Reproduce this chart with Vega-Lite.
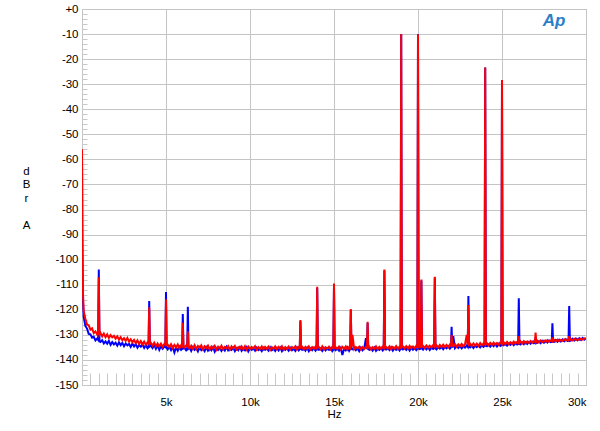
{
  "$schema": "https://vega.github.io/schema/vega-lite/v6.json",
  "autosize": {"type": "none"},
  "padding": {"left": 82, "top": 9, "right": 14, "bottom": 46},
  "width": 504,
  "height": 376,
  "background": "white",
  "config": {
    "view": {"stroke": "#a8a8a8", "strokeWidth": 1},
    "font": "Liberation Sans",
    "axis": {"labelFont": "Liberation Sans", "titleFont": "Liberation Sans", "labelFontSize": 11.5, "titleFontSize": 11.5, "labelColor": "#000", "titleColor": "#000", "titleFontWeight": "normal", "domain": false, "gridColor": "#c4c4c4", "gridWidth": 1, "tickColor": "#c8c8c8", "tickWidth": 1}
  },
  "data": {"values": [
    {"f":0,"R":-56,"L":-56.5},{"f":20,"R":-88,"L":-92},{"f":50,"R":-112,"L":-115},
    {"f":100,"R":-120.5,"L":-122.8},{"f":200,"R":-123.6,"L":-126.4},{"f":300,"R":-125.9,"L":-127.5},{"f":400,"R":-126.2,"L":-129.6},{"f":500,"R":-127.9,"L":-129.8},{"f":600,"R":-127.4,"L":-131.1},{"f":700,"R":-129.3,"L":-130.7},{"f":800,"R":-128.6,"L":-132.2},{"f":900,"R":-129.8,"L":-131.5},
    {"f":1000,"R":-107,"L":-103.9},{"f":1100,"R":-129.2,"L":-132.8},{"f":1200,"R":-130.6,"L":-132.1},{"f":1300,"R":-129.5,"L":-133.4},{"f":1400,"R":-130.9,"L":-132.6},{"f":1500,"R":-129.8,"L":-133.5},{"f":1600,"R":-131.2,"L":-132.4},{"f":1700,"R":-130.1,"L":-134.0},{"f":1800,"R":-131.0,"L":-132.9},{"f":1900,"R":-130.4,"L":-133.8},
    {"f":2000,"R":-131.5,"L":-133.1},{"f":2100,"R":-130.6,"L":-134.3},{"f":2200,"R":-131.9,"L":-133.0},{"f":2300,"R":-130.9,"L":-134.1},{"f":2400,"R":-132.1,"L":-133.2},{"f":2500,"R":-131.3,"L":-134.5},{"f":2600,"R":-132.4,"L":-133.4},{"f":2700,"R":-131.2,"L":-134.2},{"f":2800,"R":-132.7,"L":-133.6},{"f":2900,"R":-131.8,"L":-134.8},
    {"f":3000,"R":-132.9,"L":-133.5},{"f":3100,"R":-132.0,"L":-134.6},{"f":3200,"R":-133.3,"L":-133.7},{"f":3300,"R":-132.2,"L":-135.1},{"f":3400,"R":-133.6,"L":-134.0},{"f":3500,"R":-132.5,"L":-134.7},{"f":3600,"R":-133.8,"L":-133.9},{"f":3700,"R":-132.7,"L":-135.2},{"f":3800,"R":-134.0,"L":-134.1},{"f":3900,"R":-133.0,"L":-135.4},
    {"f":4000,"R":-119,"L":-116.5},{"f":4100,"R":-133.2,"L":-134.3},{"f":4200,"R":-134.3,"L":-135.3},{"f":4300,"R":-133.1,"L":-134.0},{"f":4400,"R":-134.5,"L":-135.6},{"f":4500,"R":-133.4,"L":-134.2},{"f":4600,"R":-134.6,"L":-136.0},{"f":4700,"R":-133.5,"L":-134.5},{"f":4800,"R":-134.8,"L":-135.5},{"f":4900,"R":-133.6,"L":-134.6},
    {"f":5000,"R":-115.8,"L":-112.9},{"f":5100,"R":-133.9,"L":-135.8},{"f":5200,"R":-134.9,"L":-134.7},{"f":5300,"R":-133.7,"L":-136.1},{"f":5400,"R":-135.2,"L":-134.9},{"f":5500,"R":-134.0,"L":-137.0},{"f":5600,"R":-135.0,"L":-135.0},{"f":5700,"R":-133.8,"L":-136.3},{"f":5800,"R":-135.3,"L":-134.8},{"f":5900,"R":-134.1,"L":-136.0},
    {"f":6000,"R":-125.2,"L":-121.7},{"f":6100,"R":-135.0,"L":-135.2},{"f":6200,"R":-134.2,"L":-136.2},{"f":6300,"R":-128.7,"L":-118.8},{"f":6400,"R":-135.4,"L":-135.1},{"f":6500,"R":-134.3,"L":-136.4},{"f":6600,"R":-135.5,"L":-134.9},{"f":6700,"R":-134.1,"L":-136.0},{"f":6800,"R":-135.6,"L":-135.3},{"f":6900,"R":-134.4,"L":-136.6},
    {"f":7000,"R":-135.2,"L":-135.0},{"f":7100,"R":-134.2,"L":-136.1},{"f":7200,"R":-135.7,"L":-135.4},{"f":7300,"R":-134.5,"L":-136.5},{"f":7400,"R":-135.3,"L":-135.0},{"f":7500,"R":-134.3,"L":-136.3},{"f":7600,"R":-135.8,"L":-135.5},{"f":7700,"R":-134.6,"L":-136.2},{"f":7800,"R":-135.4,"L":-134.9},{"f":7900,"R":-134.4,"L":-136.7},
    {"f":8000,"R":-135.9,"L":-135.3},{"f":8100,"R":-134.7,"L":-136.0},{"f":8200,"R":-135.5,"L":-135.2},{"f":8300,"R":-134.3,"L":-136.4},{"f":8400,"R":-135.7,"L":-135.4},{"f":8500,"R":-134.8,"L":-136.3},{"f":8600,"R":-135.3,"L":-134.8},{"f":8700,"R":-134.5,"L":-136.2},{"f":8800,"R":-135.9,"L":-135.6},{"f":8900,"R":-134.6,"L":-136.0},
    {"f":9000,"R":-135.4,"L":-135.1},{"f":9100,"R":-134.4,"L":-136.5},{"f":9200,"R":-135.8,"L":-135.3},{"f":9300,"R":-134.9,"L":-136.1},{"f":9400,"R":-135.5,"L":-134.9},{"f":9500,"R":-134.6,"L":-136.4},{"f":9600,"R":-135.7,"L":-135.5},{"f":9700,"R":-134.5,"L":-136.2},{"f":9800,"R":-135.9,"L":-135.0},{"f":9900,"R":-134.7,"L":-136.6},
    {"f":10000,"R":-135.6,"L":-135.3},{"f":10100,"R":-134.8,"L":-136.0},{"f":10200,"R":-135.4,"L":-135.4},{"f":10300,"R":-134.5,"L":-136.3},{"f":10400,"R":-135.9,"L":-135.1},{"f":10500,"R":-134.9,"L":-136.1},{"f":10600,"R":-135.6,"L":-135.6},{"f":10700,"R":-134.6,"L":-136.5},{"f":10800,"R":-135.8,"L":-135.2},{"f":10900,"R":-134.8,"L":-136.0},
    {"f":11000,"R":-135.5,"L":-135.4},{"f":11100,"R":-134.7,"L":-136.3},{"f":11200,"R":-136.0,"L":-135.0},{"f":11300,"R":-134.9,"L":-136.1},{"f":11400,"R":-135.6,"L":-135.5},{"f":11500,"R":-134.6,"L":-136.4},{"f":11600,"R":-135.7,"L":-135.3},{"f":11700,"R":-134.8,"L":-136.2},{"f":11800,"R":-135.5,"L":-135.1},{"f":11900,"R":-134.5,"L":-136.5},
    {"f":12000,"R":-135.9,"L":-135.4},{"f":12100,"R":-134.9,"L":-136.0},{"f":12200,"R":-135.6,"L":-135.3},{"f":12300,"R":-134.7,"L":-136.3},{"f":12400,"R":-135.8,"L":-135.2},{"f":12500,"R":-134.8,"L":-136.1},{"f":12600,"R":-135.4,"L":-135.5},{"f":12700,"R":-134.6,"L":-136.4},{"f":12800,"R":-135.9,"L":-135.0},{"f":12900,"R":-134.9,"L":-136.2},
    {"f":13000,"R":-124.1,"L":-124.6},{"f":13100,"R":-134.7,"L":-136.0},{"f":13200,"R":-135.8,"L":-135.3},{"f":13300,"R":-134.8,"L":-136.3},{"f":13400,"R":-135.5,"L":-135.1},{"f":13500,"R":-134.6,"L":-136.5},{"f":13600,"R":-135.9,"L":-135.4},{"f":13700,"R":-134.9,"L":-136.1},{"f":13800,"R":-135.6,"L":-135.2},{"f":13900,"R":-134.7,"L":-136.3},
    {"f":14000,"R":-110.8,"L":-111.2},{"f":14100,"R":-134.8,"L":-136.0},{"f":14200,"R":-135.7,"L":-135.4},{"f":14300,"R":-134.6,"L":-136.4},{"f":14400,"R":-135.9,"L":-135.2},{"f":14500,"R":-134.9,"L":-136.2},{"f":14600,"R":-135.5,"L":-135.5},{"f":14700,"R":-134.7,"L":-136.0},{"f":14800,"R":-135.8,"L":-135.3},{"f":14900,"R":-134.8,"L":-136.5},
    {"f":15000,"R":-109.5,"L":-110.0},{"f":15100,"R":-134.9,"L":-136.1},{"f":15200,"R":-135.6,"L":-135.4},{"f":15300,"R":-134.7,"L":-136.3},{"f":15400,"R":-135.8,"L":-135.2},{"f":15500,"R":-134.8,"L":-138.0},{"f":15600,"R":-135.5,"L":-135.5},{"f":15700,"R":-134.6,"L":-136.2},{"f":15800,"R":-135.9,"L":-135.0},{"f":15900,"R":-134.9,"L":-136.4},
    {"f":16000,"R":-119.7,"L":-120.2},{"f":16100,"R":-130.0,"L":-135.8},{"f":16200,"R":-135.7,"L":-135.3},{"f":16300,"R":-134.8,"L":-136.1},{"f":16400,"R":-135.4,"L":-135.4},{"f":16500,"R":-134.7,"L":-136.5},{"f":16600,"R":-135.8,"L":-135.1},{"f":16700,"R":-134.9,"L":-136.2},{"f":16800,"R":-135.6,"L":-135.4},{"f":16900,"R":-134.8,"L":-131.3},
    {"f":17000,"R":-124.8,"L":-125.3},{"f":17100,"R":-134.7,"L":-136.0},{"f":17200,"R":-135.8,"L":-135.3},{"f":17300,"R":-134.9,"L":-136.3},{"f":17400,"R":-135.5,"L":-135.1},{"f":17500,"R":-134.6,"L":-136.4},{"f":17600,"R":-135.7,"L":-135.5},{"f":17700,"R":-134.8,"L":-136.0},{"f":17800,"R":-135.6,"L":-135.2},{"f":17900,"R":-134.7,"L":-136.2},
    {"f":18000,"R":-103.9,"L":-104.3},{"f":18100,"R":-134.8,"L":-135.9},{"f":18200,"R":-135.5,"L":-135.3},{"f":18300,"R":-134.6,"L":-136.1},{"f":18400,"R":-135.7,"L":-135.0},{"f":18500,"R":-134.8,"L":-136.3},{"f":18600,"R":-135.4,"L":-135.4},{"f":18700,"R":-134.5,"L":-136.0},{"f":18800,"R":-135.6,"L":-135.2},{"f":18900,"R":-134.7,"L":-136.2},
    {"f":19000,"R":-10.0,"L":-10.0},{"f":19100,"R":-134.6,"L":-135.8},{"f":19200,"R":-135.4,"L":-135.2},{"f":19300,"R":-134.5,"L":-136.0},{"f":19400,"R":-135.5,"L":-135.1},{"f":19500,"R":-134.4,"L":-136.2},{"f":19600,"R":-135.3,"L":-135.0},{"f":19700,"R":-134.6,"L":-135.9},{"f":19800,"R":-135.4,"L":-135.3},{"f":19900,"R":-134.3,"L":-136.1},
    {"f":20000,"R":-10.2,"L":-10.1},{"f":20100,"R":-134.5,"L":-135.7},{"f":20200,"R":-107.9,"L":-108.3},{"f":20300,"R":-134.4,"L":-135.9},{"f":20400,"R":-135.2,"L":-135.0},{"f":20500,"R":-134.2,"L":-135.8},{"f":20600,"R":-135.1,"L":-134.9},{"f":20700,"R":-134.3,"L":-136.0},{"f":20800,"R":-135.0,"L":-135.1},{"f":20900,"R":-134.1,"L":-135.6},
    {"f":21000,"R":-106.8,"L":-107.1},{"f":21100,"R":-134.2,"L":-135.8},{"f":21200,"R":-135.0,"L":-134.9},{"f":21300,"R":-134.0,"L":-135.5},{"f":21400,"R":-134.9,"L":-134.7},{"f":21500,"R":-133.9,"L":-135.7},{"f":21600,"R":-134.8,"L":-134.8},{"f":21700,"R":-134.0,"L":-135.4},{"f":21800,"R":-134.9,"L":-134.6},{"f":21900,"R":-133.8,"L":-135.5},
    {"f":22000,"R":-130.1,"L":-126.8},{"f":22100,"R":-134.6,"L":-130.5},{"f":22200,"R":-133.7,"L":-135.3},{"f":22300,"R":-134.7,"L":-134.5},{"f":22400,"R":-133.8,"L":-135.2},{"f":22500,"R":-134.5,"L":-134.4},{"f":22600,"R":-133.6,"L":-135.4},{"f":22700,"R":-134.6,"L":-134.6},{"f":22800,"R":-133.7,"L":-135.1},{"f":22900,"R":-130.0,"L":-134.3},
    {"f":23000,"R":-118.1,"L":-114.5},{"f":23100,"R":-133.5,"L":-135.0},{"f":23200,"R":-134.4,"L":-134.2},{"f":23300,"R":-133.4,"L":-135.2},{"f":23400,"R":-134.3,"L":-134.3},{"f":23500,"R":-133.5,"L":-134.9},{"f":23600,"R":-134.4,"L":-134.1},{"f":23700,"R":-133.3,"L":-135.0},{"f":23800,"R":-134.2,"L":-134.2},{"f":23900,"R":-133.4,"L":-134.8},
    {"f":24000,"R":-23.3,"L":-23.3},{"f":24100,"R":-133.3,"L":-134.6},{"f":24200,"R":-134.1,"L":-133.9},{"f":24300,"R":-133.2,"L":-134.7},{"f":24400,"R":-134.0,"L":-133.8},{"f":24500,"R":-133.1,"L":-134.5},{"f":24600,"R":-133.9,"L":-133.7},{"f":24700,"R":-133.2,"L":-134.6},{"f":24800,"R":-134.0,"L":-133.6},{"f":24900,"R":-133.0,"L":-134.4},
    {"f":25000,"R":-28.3,"L":-28.3},{"f":25100,"R":-132.9,"L":-134.2},{"f":25200,"R":-133.8,"L":-133.5},{"f":25300,"R":-132.8,"L":-134.3},{"f":25400,"R":-133.7,"L":-133.4},{"f":25500,"R":-132.9,"L":-134.0},{"f":25600,"R":-133.6,"L":-133.3},{"f":25700,"R":-132.7,"L":-134.1},{"f":25800,"R":-133.5,"L":-133.2},{"f":25900,"R":-132.8,"L":-133.9},
    {"f":26000,"R":-130.5,"L":-115.4},{"f":26100,"R":-132.6,"L":-133.8},{"f":26200,"R":-133.4,"L":-133.0},{"f":26300,"R":-132.5,"L":-133.7},{"f":26400,"R":-133.3,"L":-132.9},{"f":26500,"R":-132.6,"L":-133.6},{"f":26600,"R":-133.2,"L":-132.8},{"f":26700,"R":-132.4,"L":-133.5},{"f":26800,"R":-133.1,"L":-132.7},{"f":26900,"R":-132.5,"L":-133.4},
    {"f":27000,"R":-129.1,"L":-131.0},{"f":27100,"R":-132.3,"L":-133.2},{"f":27200,"R":-133.0,"L":-132.5},{"f":27300,"R":-132.2,"L":-133.3},{"f":27400,"R":-132.9,"L":-132.4},{"f":27500,"R":-132.3,"L":-133.1},{"f":27600,"R":-132.8,"L":-132.3},{"f":27700,"R":-132.1,"L":-133.0},{"f":27800,"R":-132.7,"L":-132.2},{"f":27900,"R":-132.2,"L":-132.9},
    {"f":28000,"R":-131.0,"L":-125.4},{"f":28100,"R":-132.0,"L":-132.8},{"f":28200,"R":-132.6,"L":-132.0},{"f":28300,"R":-131.9,"L":-132.7},{"f":28400,"R":-132.5,"L":-131.9},{"f":28500,"R":-132.0,"L":-132.6},{"f":28600,"R":-132.4,"L":-131.8},{"f":28700,"R":-131.8,"L":-132.5},{"f":28800,"R":-132.3,"L":-131.7},{"f":28900,"R":-131.9,"L":-132.4},
    {"f":29000,"R":-130.5,"L":-118.5},{"f":29100,"R":-131.7,"L":-132.3},{"f":29200,"R":-132.2,"L":-131.5},{"f":29300,"R":-131.6,"L":-132.2},{"f":29400,"R":-132.1,"L":-131.4},{"f":29500,"R":-131.7,"L":-132.1},{"f":29600,"R":-132.0,"L":-131.3},{"f":29700,"R":-131.5,"L":-132.0},{"f":29800,"R":-131.9,"L":-131.2},{"f":29900,"R":-131.4,"L":-131.9},
    {"f":30000,"R":-131.6,"L":-131.4},
    {"f":960,"R":-129.6,"L":-132.0},{"f":1040,"R":-129.9,"L":-132.5},
    {"f":3960,"R":-133.4,"L":-135.0},{"f":4040,"R":-133.6,"L":-134.6},
    {"f":4960,"R":-133.9,"L":-134.9},{"f":5040,"R":-134.1,"L":-135.2},
    {"f":5960,"R":-134.5,"L":-135.6},{"f":6040,"R":-134.7,"L":-135.4},
    {"f":6260,"R":-134.6,"L":-135.7},{"f":6340,"R":-134.9,"L":-135.5},
    {"f":12960,"R":-135.1,"L":-135.8},{"f":13040,"R":-135.0,"L":-135.6},
    {"f":13960,"R":-135.2,"L":-135.7},{"f":14040,"R":-135.0,"L":-135.8},
    {"f":14960,"R":-135.2,"L":-135.9},{"f":15040,"R":-135.1,"L":-135.6},
    {"f":15960,"R":-135.3,"L":-135.7},{"f":16040,"R":-135.0,"L":-135.6},
    {"f":16960,"R":-135.2,"L":-135.7},{"f":17040,"R":-135.1,"L":-135.6},
    {"f":17960,"R":-135.2,"L":-135.6},{"f":18040,"R":-135.0,"L":-135.7},
    {"f":18960,"R":-135.1,"L":-135.6},{"f":19040,"R":-134.9,"L":-135.5},
    {"f":19960,"R":-134.9,"L":-135.6},{"f":20040,"R":-134.8,"L":-135.4},
    {"f":20160,"R":-134.8,"L":-135.5},{"f":20240,"R":-134.7,"L":-135.4},
    {"f":20960,"R":-134.6,"L":-135.3},{"f":21040,"R":-134.5,"L":-135.4},
    {"f":21960,"R":-134.3,"L":-135.0},{"f":22040,"R":-134.2,"L":-135.1},
    {"f":22960,"R":-134.0,"L":-134.8},{"f":23040,"R":-133.9,"L":-134.7},
    {"f":23960,"R":-133.7,"L":-134.3},{"f":24040,"R":-133.8,"L":-134.4},
    {"f":24960,"R":-133.4,"L":-134.1},{"f":25040,"R":-133.5,"L":-134.0},
    {"f":25960,"R":-133.2,"L":-133.7},{"f":26040,"R":-133.1,"L":-133.6},
    {"f":26960,"R":-132.8,"L":-133.2},{"f":27040,"R":-132.9,"L":-133.3},
    {"f":27960,"R":-132.5,"L":-132.8},{"f":28040,"R":-132.4,"L":-132.7},
    {"f":28960,"R":-132.1,"L":-132.3},{"f":29040,"R":-132.0,"L":-132.4}
  ]},
  "transform": [{"fold": ["L", "R"], "as": ["ch", "db"]}],
  "encoding": {
    "x": {"field": "f", "type": "quantitative",
      "scale": {"domain": [0, 30000], "nice": false, "zero": false},
      "axis": {
        "values": [0,500,1000,1500,2000,2500,3000,3500,4000,4500,5000,5500,6000,6500,7000,7500,8000,8500,9000,9500,10000,10500,11000,11500,12000,12500,13000,13500,14000,14500,15000,15500,16000,16500,17000,17500,18000,18500,19000,19500,20000,20500,21000,21500,22000,22500,23000,23500,24000,24500,25000,25500,26000,26500,27000,27500,28000,28500,29000,29500,30000],
        "grid": true,
        "gridOpacity": {"condition": {"test": "datum.value % 5000 === 0", "value": 1}, "value": 0},
        "tickSize": -12,
        "labelExpr": "datum.value % 5000 === 0 && datum.value > 0 ? (datum.value / 1000) + 'k' : ''",
        "labelFlush": true,
        "labelPadding": 23,
        "title": "Hz",
        "titlePadding": 1
      }
    },
    "y": {"field": "db", "type": "quantitative",
      "scale": {"domain": [-150, 0], "nice": false, "zero": false},
      "axis": {
        "values": [-150,-148,-146,-144,-142,-140,-138,-136,-134,-132,-130,-128,-126,-124,-122,-120,-118,-116,-114,-112,-110,-108,-106,-104,-102,-100,-98,-96,-94,-92,-90,-88,-86,-84,-82,-80,-78,-76,-74,-72,-70,-68,-66,-64,-62,-60,-58,-56,-54,-52,-50,-48,-46,-44,-42,-40,-38,-36,-34,-32,-30,-28,-26,-24,-22,-20,-18,-16,-14,-12,-10,-8,-6,-4,-2,0],
        "grid": true,
        "gridOpacity": {"condition": {"test": "datum.value % 10 === 0", "value": 1}, "value": 0},
        "tickSize": -5,
        "labelExpr": "datum.value % 10 === 0 ? (datum.value === 0 ? '+0' : datum.value + '') : ''",
        "labelPadding": 9,
        "title": ["d", "B", "r", "\u200b", "A"],
        "titleAngle": 0,
        "titleAlign": "center",
        "titleBaseline": "middle",
        "titleLineHeight": 13.5,
        "titleX": -56,
        "titleY": 162
      }
    }
  },
  "layer": [
    {"transform": [{"filter": "datum.ch === 'L'"}], "mark": {"type": "line", "color": "#0000ff", "strokeWidth": 2, "clip": true}},
    {"transform": [{"filter": "datum.ch === 'R'"}], "mark": {"type": "line", "color": "#ff0000", "strokeWidth": 2, "clip": true}},
    {"data": {"values": [{"f": 28100, "db": -4.6, "t": "Ap"}]}, "transform": [], "mark": {"type": "text", "font": "Liberation Sans", "fontSize": 17, "fontStyle": "italic", "fontWeight": "bold", "color": "#2a7fc8", "align": "center", "baseline": "middle"}, "encoding": {"text": {"field": "t"}}}
  ]
}
